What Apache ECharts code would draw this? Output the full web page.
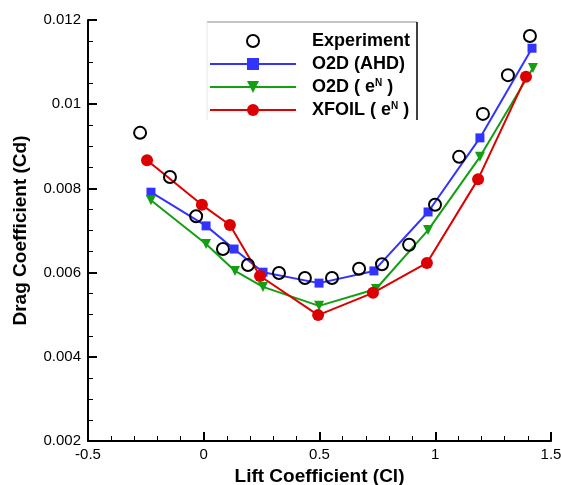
<!DOCTYPE html>
<html>
<head>
<meta charset="utf-8">
<script src="https://cdn.jsdelivr.net/npm/echarts@6/dist/echarts.min.js"></script>
<style>
  html, body { margin: 0; padding: 0; background: #fff; }
  #chart { width: 561px; height: 485px; }
</style>
</head>
<body>
<div id="chart"></div>
<script>
// measured data: lift coefficient (x) vs drag coefficient (y)
const expX = [-0.275, -0.146, -0.033, 0.083, 0.191, 0.325, 0.437, 0.554, 0.671, 0.770, 0.887, 0.999, 1.103, 1.206, 1.314, 1.409]
const expY = [0.00932, 0.00827, 0.00734, 0.00656, 0.00618, 0.00599, 0.00587, 0.00587, 0.00609, 0.00620, 0.00666, 0.00761, 0.00875, 0.00977, 0.01069, 0.01162]

const ahdX = [-0.228, 0.010, 0.131, 0.256, 0.498, 0.735, 0.969, 1.193, 1.418]
const ahdY = [0.00791, 0.00711, 0.00656, 0.00601, 0.00575, 0.00604, 0.00744, 0.00920, 0.01133]

const enX = [-0.228, 0.010, 0.135, 0.256, 0.498, 0.744, 0.969, 1.193, 1.422]
const enY = [0.00772, 0.00668, 0.00604, 0.00566, 0.00521, 0.00561, 0.00701, 0.00875, 0.01086]

const xfX = [-0.245, -0.008, 0.113, 0.243, 0.494, 0.731, 0.964, 1.185, 1.392]
const xfY = [0.00867, 0.00761, 0.00713, 0.00592, 0.00499, 0.00552, 0.00623, 0.00822, 0.01065]

const seriesNames = ["Experiment", "O2D (AHD)", "O2D ( eN )", "XFOIL ( eN )"]

const pairs = (xs, ys) => xs.map((x, i) => [x, ys[i]])

const FONT = "'Liberation Sans', Arial, Helvetica, sans-serif"

const chart = echarts.init(document.getElementById("chart"), null, { renderer: "canvas" })

const axisCommon = {
  type: "value",
  axisLine: { onZero: false, lineStyle: { color: "#000", width: 2 } },
  axisTick: { inside: true, length: 9, lineStyle: { color: "#000", width: 2 } },
  minorTick: { show: true, length: 5, lineStyle: { color: "#000", width: 1 } },
  splitLine: { show: false },
  minorSplitLine: { show: false },
  axisLabel: { color: "#000", fontSize: 15, fontFamily: FONT },
  nameLocation: "middle",
  nameTextStyle: { color: "#000", fontSize: 19, fontWeight: "bold", fontFamily: FONT },
}

const option = {
  backgroundColor: "#fff",
  animation: false,
  grid: { left: 88, right: 10, top: 20, bottom: 44, containLabel: false, outerBoundsMode: "none" },
  xAxis: {
    ...axisCommon,
    min: -0.5,
    max: 1.5,
    interval: 0.5,
    minorTick: { ...axisCommon.minorTick, splitNumber: 5 },
    axisLabel: { ...axisCommon.axisLabel, margin: 6 },
    name: "Lift Coefficient (Cl)",
    nameGap: 24,
  },
  yAxis: {
    ...axisCommon,
    min: 0.002,
    max: 0.012,
    interval: 0.002,
    minorTick: { ...axisCommon.minorTick, splitNumber: 4 },
    axisLabel: { ...axisCommon.axisLabel, margin: 7, formatter: v => String(+v.toFixed(3)) },
    name: "Drag Coefficient (Cd)",
    nameGap: 58,
  },
  legend: {
    orient: "vertical",
    left: 209,
    top: 32,
    padding: 0,
    itemWidth: 86,
    itemHeight: 15,
    itemGap: 5,
    data: seriesNames,
    formatter: name => {
      if (name.indexOf("eN") >= 0) {
        const head = name.split("eN")[0]
        return "{n|" + head + "e}{s|N}{n| )}"
      }
      return "{n|" + name + "}"
    },
    textStyle: {
      color: "#000",
      padding: [0, 0, 0, 11],
      rich: {
        n: { fontSize: 18, fontWeight: "bold", fontFamily: FONT, lineHeight: 18, color: "#000" },
        s: { fontSize: 10, fontWeight: "bold", fontFamily: FONT, lineHeight: 18, verticalAlign: "top", color: "#000" },
      },
    },
  },
  graphic: [
    { type: "line", shape: { x1: 207, y1: 22, x2: 417, y2: 22 }, style: { stroke: "#8a8a8a", lineWidth: 1 } },
    { type: "line", shape: { x1: 417, y1: 22, x2: 417, y2: 120 }, style: { stroke: "#000", lineWidth: 1.5 } },
    { type: "line", shape: { x1: 207, y1: 22, x2: 207, y2: 120 }, style: { stroke: "#e6e6e6", lineWidth: 1 } },
  ],
  series: [
    {
      name: seriesNames[1],
      type: "line",
      data: pairs(ahdX, ahdY),
      symbol: "rect",
      symbolSize: 9,
      lineStyle: { color: "#3333ff", width: 2 },
      itemStyle: { color: "#3333ff" },
    },
    {
      name: seriesNames[2],
      type: "line",
      data: pairs(enX, enY),
      symbol: "triangle",
      symbolRotate: 180,
      symbolSize: 10,
      lineStyle: { color: "#12a012", width: 2 },
      itemStyle: { color: "#12a012" },
    },
    {
      name: seriesNames[3],
      type: "line",
      data: pairs(xfX, xfY),
      symbol: "circle",
      symbolSize: 12,
      lineStyle: { color: "#dd0000", width: 2 },
      itemStyle: { color: "#dd0000" },
    },
    {
      name: seriesNames[0],
      type: "line",
      data: pairs(expX, expY),
      symbol: "circle",
      symbolSize: 12,
      lineStyle: { width: 0, opacity: 0 },
      itemStyle: { color: "rgba(255,255,255,0)", borderColor: "#000", borderWidth: 2 },
      z: 5,
    },
  ],
}

chart.setOption(option)
</script>
</body>
</html>
